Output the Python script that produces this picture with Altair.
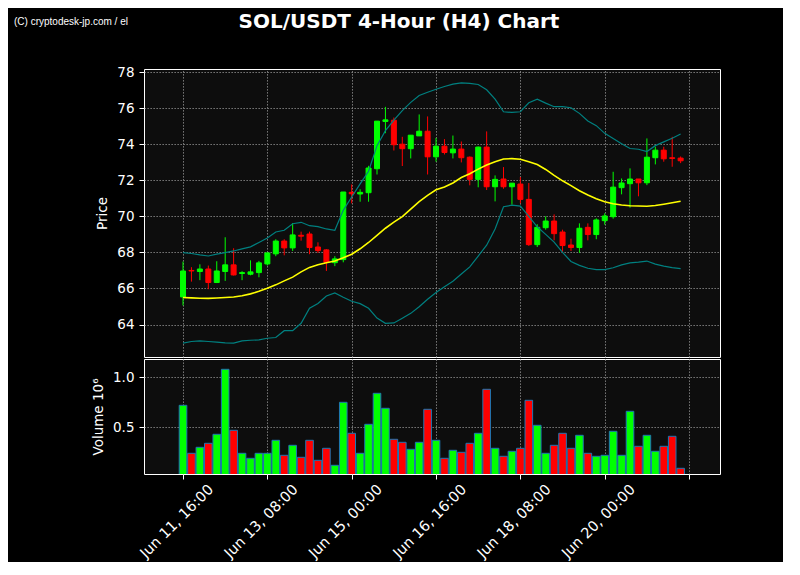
import altair as alt
import pandas as pd

title_text = "SOL/USDT 4-Hour (H4) Chart"
watermark_text = "(C) cryptodesk-jp.com / el"

start = "2025-06-11 16:00"
n_candles = 60
dates = pd.date_range(start, periods=n_candles, freq="4h")

open_ = [65.53, 67.00, 66.94, 67.08, 66.33, 66.94, 67.31, 66.83, 66.79, 66.88,
         67.36, 67.92, 68.63, 68.25, 68.95, 69.02, 68.30, 68.14, 67.43, 67.60,
         71.33, 71.24, 71.31, 72.64, 75.26, 75.33, 74.00, 73.75, 74.46, 74.72,
         73.30, 73.89, 73.52, 73.73, 73.28, 72.05, 73.84, 71.64, 72.07, 71.64,
         71.79, 70.94, 68.43, 69.37, 69.74, 69.13, 68.41, 68.27, 69.39, 68.99,
         69.76, 69.98, 71.59, 71.81, 72.07, 71.86, 73.25, 73.67, 73.25, 73.23]
close = [66.97, 66.97, 67.08, 66.33, 66.97, 67.31, 66.75, 66.88, 66.92, 67.42,
         67.97, 68.63, 68.25, 68.97, 68.90, 68.27, 68.10, 67.45, 67.64, 71.35,
         71.25, 71.33, 72.68, 75.28, 75.35, 73.97, 73.75, 74.50, 74.72, 73.30,
         73.89, 73.54, 73.73, 73.25, 72.05, 73.84, 71.64, 72.05, 71.64, 71.84,
         70.94, 68.43, 69.39, 69.74, 69.04, 68.38, 68.27, 69.34, 68.99, 69.80,
         70.02, 71.62, 71.85, 72.07, 71.86, 73.28, 73.67, 73.19, 73.21, 73.08]
high = [67.49, 67.18, 67.34, 67.27, 67.51, 68.84, 68.23, 66.96, 67.56, 67.53,
        68.00, 68.73, 68.73, 69.63, 69.15, 69.15, 68.56, 68.18, 67.79, 71.35,
        71.77, 71.50, 72.80, 75.28, 76.07, 75.48, 74.41, 74.50, 75.65, 75.54,
        74.35, 74.28, 74.48, 74.15, 73.32, 73.87, 74.71, 72.27, 72.73, 71.84,
        72.18, 71.85, 69.56, 70.00, 70.11, 69.26, 68.76, 69.61, 69.61, 69.89,
        70.17, 72.47, 72.10, 72.66, 72.07, 74.32, 73.86, 73.86, 74.41, 73.32]
low = [65.06, 66.38, 66.46, 65.96, 66.30, 66.42, 66.72, 66.46, 66.73, 66.62,
       67.27, 67.79, 67.84, 68.08, 68.65, 67.90, 67.97, 66.97, 67.24, 67.45,
       70.72, 70.81, 70.81, 72.32, 74.61, 73.65, 72.79, 73.21, 74.46, 72.32,
       73.03, 73.43, 73.21, 72.99, 71.72, 71.61, 71.46, 70.83, 71.53, 70.65,
       70.72, 68.36, 68.30, 69.26, 68.67, 68.03, 68.08, 67.97, 68.67, 68.73,
       69.54, 69.87, 71.22, 70.48, 71.11, 71.73, 72.88, 73.03, 72.75, 72.95]
volume = [0.72, 0.24, 0.30, 0.34, 0.43, 1.08, 0.47, 0.24, 0.19, 0.24,
          0.24, 0.37, 0.22, 0.32, 0.20, 0.37, 0.17, 0.29, 0.12, 0.75,
          0.44, 0.24, 0.53, 0.84, 0.69, 0.38, 0.35, 0.28, 0.35, 0.68,
          0.37, 0.19, 0.27, 0.25, 0.34, 0.44, 0.88, 0.29, 0.21, 0.26,
          0.29, 0.77, 0.52, 0.24, 0.32, 0.44, 0.29, 0.42, 0.24, 0.21,
          0.22, 0.46, 0.22, 0.66, 0.31, 0.42, 0.26, 0.31, 0.41, 0.09]
sma = [65.50, 65.48, 65.46, 65.45, 65.47, 65.50, 65.53, 65.60, 65.70, 65.84,
       66.01, 66.20, 66.42, 66.63, 66.92, 67.17, 67.32, 67.43, 67.52, 67.70,
       67.90, 68.20, 68.55, 68.95, 69.34, 69.68, 69.98, 70.40, 70.81, 71.16,
       71.47, 71.63, 71.85, 72.15, 72.36, 72.62, 72.85, 73.03, 73.18, 73.20,
       73.17, 73.03, 72.87, 72.60, 72.27, 71.97, 71.70, 71.42, 71.18, 70.98,
       70.81, 70.70, 70.63, 70.59, 70.57, 70.56, 70.60, 70.67, 70.75, 70.84]
upper = [67.99, 67.94, 67.86, 67.80, 67.90, 67.99, 68.08, 68.20, 68.31, 68.55,
         68.80, 69.13, 69.23, 69.59, 69.67, 69.48, 69.43, 69.30, 69.23, 70.33,
         71.07, 71.80, 72.50, 73.92, 74.75, 75.34, 75.86, 76.32, 76.70, 76.88,
         77.05, 77.20, 77.33, 77.40, 77.37, 77.31, 77.02, 76.50, 75.80, 75.76,
         75.80, 76.30, 76.50, 76.28, 76.08, 76.08, 76.02, 75.71, 75.29, 75.03,
         74.60, 74.31, 74.03, 73.76, 73.72, 73.59, 73.92, 74.13, 74.33, 74.57]
lower = [62.97, 63.06, 63.09, 63.06, 63.02, 62.98, 62.97, 63.09, 63.13, 63.15,
         63.24, 63.28, 63.66, 63.66, 64.07, 64.90, 65.17, 65.58, 65.75, 65.51,
         65.29, 65.16, 64.90, 64.36, 64.07, 64.09, 64.35, 64.62, 64.99, 65.40,
         65.78, 66.10, 66.40, 66.80, 67.20, 67.80, 68.40, 69.30, 70.53, 70.62,
         70.57, 70.00, 69.42, 69.00, 68.57, 68.00, 67.50, 67.28, 67.12, 67.05,
         67.05, 67.15, 67.31, 67.42, 67.46, 67.52, 67.35, 67.24, 67.16, 67.10]

df = pd.DataFrame({
    "date": dates, "open": open_, "high": high, "low": low, "close": close,
    "volume": volume, "sma": sma, "upper": upper, "lower": lower,
})
df["dir"] = ["up" if c >= o else "down" for o, c in zip(open_, close)]

x_domain = [alt.DateTime(year=2025, month=6, date=10, hours=23, minutes=52),
            alt.DateTime(year=2025, month=6, date=22, hours=4, minutes=18)]
tick_days_hours = [(11, 16), (13, 8), (15, 0), (16, 16), (18, 8), (20, 0), (21, 16)]
tick_values = [alt.DateTime(year=2025, month=6, date=d, hours=h) for d, h in tick_days_hours]
price_ticks = [64, 66, 68, 70, 72, 74, 76, 78]
vol_ticks = [0.5, 1.0]

color_scale = alt.Scale(domain=["up", "down"], range=["#00ff00", "#ff0000"])
x_scale = alt.Scale(domain=x_domain, nice=False)
y_scale = alt.Scale(domain=[62.2, 78.17], nice=False, zero=False)

price_x = alt.X("date:T", scale=x_scale,
                axis=alt.Axis(values=tick_values, grid=True, labels=False, ticks=False,
                              domain=False, title=None, orient="top"))
base = alt.Chart(df).encode(x=price_x)

wicks = base.mark_rule(strokeWidth=1).encode(
    y=alt.Y("low:Q", scale=y_scale,
            axis=alt.Axis(values=price_ticks, title="Price", grid=True, domain=False)),
    y2="high:Q",
    color=alt.Color("dir:N", scale=color_scale, legend=None),
)
bodies = base.mark_bar(size=5, strokeWidth=1).encode(
    y="open:Q", y2="close:Q",
    color=alt.Color("dir:N", scale=color_scale, legend=None),
    stroke=alt.Stroke("dir:N", scale=color_scale, legend=None),
)
lower_line = base.mark_line(color="#008080", strokeWidth=1.2).encode(y="lower:Q")
upper_line = base.mark_line(color="#008080", strokeWidth=1.2).encode(y="upper:Q")
sma_line = base.mark_line(color="#ffff00", strokeWidth=1.6).encode(y="sma:Q")

title_mark = alt.Chart(pd.DataFrame({"label": [title_text]})).mark_text(
    align="center", baseline="top", font="DejaVu Sans", fontSize=20,
    fontWeight="bold", color="#ffffff",
).encode(x=alt.value(255), y=alt.value(-57), text="label:N")
watermark_mark = alt.Chart(pd.DataFrame({"label": [watermark_text]})).mark_text(
    align="left", baseline="middle", font="Liberation Sans", fontSize=10,
    color="#ffffff",
).encode(x=alt.value(-130), y=alt.value(-47.5), text="label:N")

price = alt.layer(wicks, bodies, lower_line, upper_line, sma_line, title_mark,
                  watermark_mark).properties(width=576, height=288)

label_expr = ("datum.value > datetime(2025, 5, 21, 12, 0) ? '' : "
              "timeFormat(datum.value, '%b %d, %H:%M')")
vol = alt.Chart(df).mark_bar(size=7.6, strokeWidth=1, stroke="#1f77b4", clip=True).encode(
    x=alt.X("date:T", scale=x_scale,
            axis=alt.Axis(values=tick_values, grid=True, labelExpr=label_expr,
                          labelAngle=315, labelAlign="right", labelBaseline="middle",
                          labelOffset=28, labelPadding=8, labelOverlap=False,
                          labelFontSize=14.5,
                          labelFlush=False, title=None, domain=False)),
    y=alt.Y("volume:Q", scale=alt.Scale(domain=[0.033, 1.183], nice=False, zero=False),
            axis=alt.Axis(values=vol_ticks, format=".1f", title="Volume  10⁶",
                          grid=True, domain=False)),
    color=alt.Color("dir:N", scale=color_scale, legend=None),
).properties(width=576, height=115)

chart = alt.vconcat(price, vol, spacing=0).properties(
    background="#000000",
    padding={"left": 5, "top": 3, "right": 60, "bottom": 1},
).configure_view(
    fill="#0d0d0d", stroke="#ffffff", strokeWidth=1,
).configure_axis(
    labelColor="#ffffff", labelFont="DejaVu Sans", labelFontSize=13.5,
    titleColor="#ffffff", titleFont="DejaVu Sans", titleFontSize=13.5,
    titleFontWeight="normal", titlePadding=7,
    tickColor="#ffffff", tickSize=5, labelPadding=5,
    gridColor="#8c8c8c", gridDash=[1.3, 1.7], gridWidth=1, gridOpacity=1,
)

chart.save("out.html", embed_options={"renderer": "svg", "actions": False})
